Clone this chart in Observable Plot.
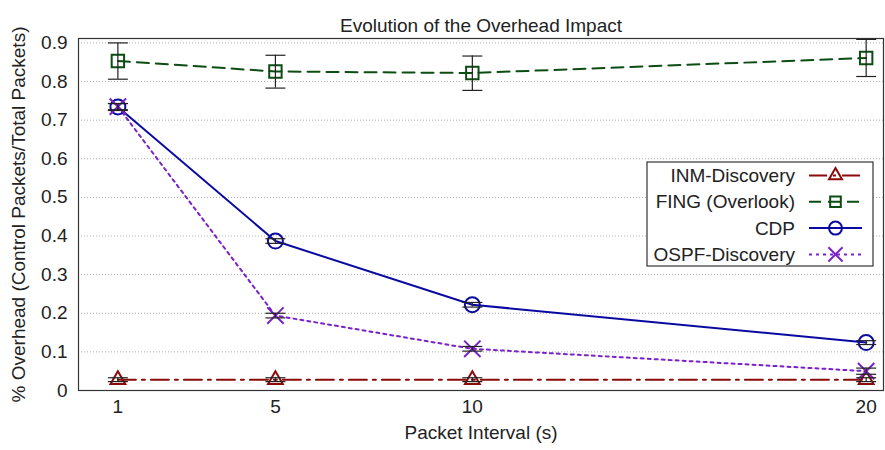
<!DOCTYPE html>
<html><head><meta charset="utf-8">
<script src="https://cdn.jsdelivr.net/npm/d3@7"></script>
<script src="https://cdn.jsdelivr.net/npm/@observablehq/plot@0.6"></script>
<style>body{margin:0;background:#fff;font-family:"Liberation Sans",Arial,sans-serif}</style>
</head><body><div id="chart"></div>
<script>
const titleText = "Evolution of the Overhead Impact";
const xLabel = "Packet Interval (s)";
const yLabel = "% Overhead (Control Packets/Total Packets)";
const intervals = [1, 5, 10, 20];
const xTicks = [1, 5, 10, 20];
const yTicks = [0, 0.1, 0.2, 0.3, 0.4, 0.5, 0.6, 0.7, 0.8, 0.9];
const seriesNames = ["INM-Discovery", "FING (Overlook)", "CDP", "OSPF-Discovery"];
const inmValues = [0.028, 0.028, 0.028, 0.028];
const inmErr = [0.005, 0.005, 0.005, 0.005];
const fingValues = [0.853, 0.826, 0.822, 0.861];
const fingLow = [0.806, 0.783, 0.777, 0.813];
const fingHigh = [0.900, 0.868, 0.866, 0.909];
const cdpValues = [0.734, 0.387, 0.222, 0.124];
const cdpErr = [0.009, 0.006, 0.006, 0.005];
const ospfValues = [0.735, 0.194, 0.108, 0.050];
const ospfErr = [0.008, 0.006, 0.006, 0.008];

const styles = {
  "INM-Discovery": {color: "#8b0a0a", dash: "18,6,3,6", symbol: "triangle", r: 5.5, lr: 4.8},
  "FING (Overlook)": {color: "#0b4d12", dash: "12,7", symbol: "square", r: 7, lr: 6},
  "CDP": {color: "#0a0aa0", dash: null, symbol: "circle", r: 7.5, lr: 6.5},
  "OSPF-Discovery": {color: "#7a22c8", dash: "3,4", symbol: "times", r: 7.5, lr: 6.5}
};

const rows = [];
intervals.forEach((x, i) => {
  rows.push({series: "INM-Discovery", x, y: inmValues[i], lo: inmValues[i] - inmErr[i], hi: inmValues[i] + inmErr[i]});
  rows.push({series: "FING (Overlook)", x, y: fingValues[i], lo: fingLow[i], hi: fingHigh[i]});
  rows.push({series: "CDP", x, y: cdpValues[i], lo: cdpValues[i] - cdpErr[i], hi: cdpValues[i] + cdpErr[i]});
  rows.push({series: "OSPF-Discovery", x, y: ospfValues[i], lo: ospfValues[i] - ospfErr[i], hi: ospfValues[i] + ospfErr[i]});
});

const capSymbol = {draw(ctx, size) { const r = Math.sqrt(size / Math.PI); ctx.moveTo(-r, 0); ctx.lineTo(r, 0); }};
const FS = 19;

const marks = [
  Plot.gridY(yTicks.filter(t => t > 0), {stroke: "#9a9a9a", strokeOpacity: 0.8, strokeDasharray: "1,2", strokeWidth: 1}),
  Plot.frame({stroke: "#333", strokeWidth: 1.2}),
];
for (const s of seriesNames) {
  const st = styles[s];
  const data = rows.filter(d => d.series === s);
  marks.push(Plot.line(data, {x: "x", y: "y", stroke: st.color, strokeWidth: 2, strokeDasharray: st.dash}));
}
for (const s of seriesNames) {
  const st = styles[s];
  const data = rows.filter(d => d.series === s);
  marks.push(Plot.dot(data, {x: "x", y: "y", symbol: st.symbol, r: st.r, stroke: st.color, strokeWidth: 2, fill: "none"}));
}
marks.push(
  Plot.ruleX(rows, {x: "x", y1: "lo", y2: "hi", stroke: "#222", strokeWidth: 1.2}),
  Plot.dot(rows, {x: "x", y: "lo", symbol: capSymbol, r: 10, stroke: "#222", strokeWidth: 1.2, fill: "none"}),
  Plot.dot(rows, {x: "x", y: "hi", symbol: capSymbol, r: 10, stroke: "#222", strokeWidth: 1.2, fill: "none"}),
  Plot.axisX({ticks: xTicks, tickSize: 0, tickPadding: 9, fontSize: FS, label: null}),
  Plot.axisY({ticks: yTicks, tickSize: 0, tickPadding: 11, fontSize: FS, label: null, tickFormat: d => String(+d.toFixed(1))}),
  Plot.text([titleText], {frameAnchor: "top", dy: -20, fontSize: FS, fill: "#222"}),
  Plot.text([xLabel], {frameAnchor: "bottom", dy: 48, fontSize: FS, fill: "#222"}),
  Plot.text([yLabel], {frameAnchor: "left", dx: -60, rotate: -90, textAnchor: "middle", fontSize: FS, fill: "#222"})
);

const chart = Plot.plot({
  width: 885, height: 450,
  marginLeft: 78, marginRight: 2, marginTop: 38, marginBottom: 60,
  style: {fontFamily: "'Liberation Sans', Arial, sans-serif", color: "#222", background: "#fff"},
  x: {domain: [0, 20.44]},
  y: {domain: [0, 0.9114]},
  marks
});
document.getElementById("chart").appendChild(chart);

// Legend (inside the plot frame, top-right)
const svg = d3.select(chart);
const lg = svg.append("g").attr("font-family", "'Liberation Sans', Arial, sans-serif").attr("font-size", FS);
lg.append("rect").attr("x", 647).attr("y", 162).attr("width", 226).attr("height", 104)
  .attr("fill", "#fff").attr("stroke", "#333").attr("stroke-width", 1.2);
const symMap = {triangle: d3.symbolTriangle, square: d3.symbolSquare, circle: d3.symbolCircle, times: d3.symbolTimes};
seriesNames.forEach((s, i) => {
  const st = styles[s];
  const y = 175.5 + i * 26.3;
  lg.append("text").attr("x", 795).attr("y", y).attr("dy", "0.35em").attr("text-anchor", "end").attr("fill", "#222").text(s);
  lg.append("line").attr("x1", 809).attr("x2", 862).attr("y1", y).attr("y2", y)
    .attr("stroke", st.color).attr("stroke-width", 2).attr("stroke-dasharray", st.dash);
  lg.append("path").attr("transform", `translate(835.5,${y})`)
    .attr("d", d3.symbol(symMap[st.symbol], st.lr * st.lr * Math.PI)())
    .attr("fill", "none").attr("stroke", st.color).attr("stroke-width", 2);
});
</script>
</body></html>
